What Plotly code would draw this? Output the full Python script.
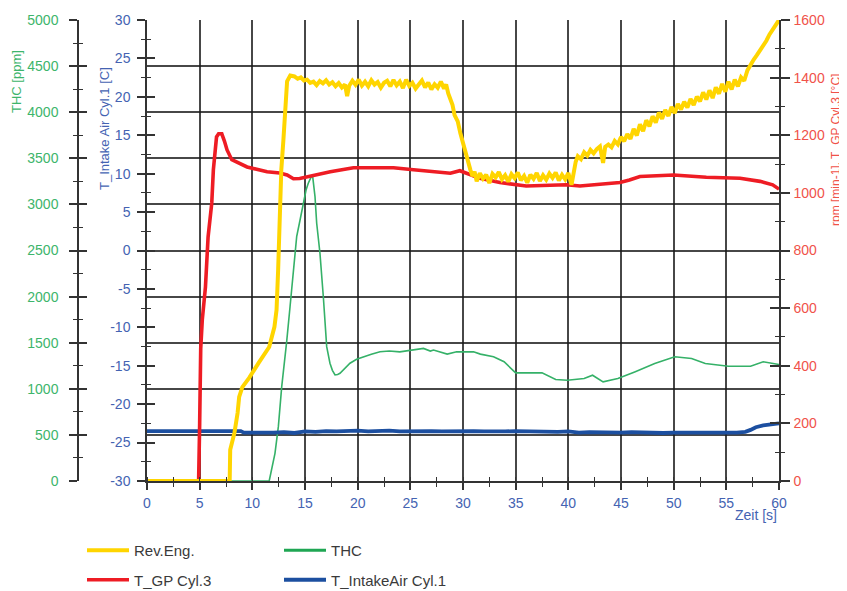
import plotly.graph_objects as go

# ---------------- data ----------------
rev_t = [0, 7.85, 7.9, 8.1, 8.3, 8.6, 8.75, 9.05, 9.7, 10.6, 11.6, 12.1, 12.3, 12.45, 12.6, 12.75, 12.95, 13.1, 13.2, 13.3, 13.6, 14.0,
         14.3, 14.6, 14.9, 15.2, 15.5, 15.8, 16.1, 16.4, 16.7, 17.0, 17.3, 17.6, 17.9, 18.2, 18.5, 18.8, 19.0, 19.2, 19.5, 19.8,
         20.1, 20.4, 20.7, 21.0, 21.3, 21.6, 21.9, 22.2, 22.5, 22.8, 23.1, 23.4, 23.7, 24.0, 24.3, 24.6, 24.9, 25.2, 25.5, 25.8,
         26.1, 26.4, 26.7, 27.0, 27.3, 27.6, 27.9, 28.2, 28.4,
         28.6, 28.8, 29.0, 29.2, 29.5, 29.75, 29.95, 30.1, 30.3, 30.5, 30.7,
         30.9, 31.1, 31.3, 31.6, 31.9, 32.2, 32.5, 32.8, 33.1, 33.4, 33.7, 34.0, 34.3, 34.6, 34.9, 35.2, 35.5, 35.8, 36.1, 36.4,
         36.7, 37.0, 37.3, 37.6, 37.9, 38.2, 38.5, 38.8, 39.1, 39.4, 39.7, 40.0, 40.3,
         40.5, 40.7, 40.9, 41.2, 41.5, 41.8, 42.1, 42.4, 42.7, 43.0, 43.3, 43.5, 43.8, 44.1, 44.4, 44.7, 45.0, 45.3, 45.6, 45.9,
         46.2, 46.5, 46.8, 47.1, 47.4, 47.7, 48.0, 48.3, 48.6, 48.9, 49.2, 49.5, 49.8, 50.1, 50.4, 50.7, 51.0, 51.3, 51.6, 51.9,
         52.2, 52.5, 52.8, 53.1, 53.4, 53.7, 54.0, 54.3, 54.6, 54.9, 55.2, 55.5, 55.8, 56.1, 56.4, 56.7, 57.0, 57.3, 57.6, 57.9,
         58.2, 58.5, 58.8, 59.1, 59.4, 59.7, 60.0]
rev_v = [0, 0, 108, 140, 167, 236, 292, 326, 358, 410, 465, 535, 594, 733, 906, 1080, 1184, 1253, 1306, 1387, 1407, 1404,
         1396, 1401, 1390, 1393, 1382, 1386, 1374, 1388, 1380, 1391, 1376, 1384, 1370, 1381, 1366, 1376, 1336, 1372, 1389, 1375,
         1393, 1372, 1386, 1370, 1391, 1376, 1385, 1365, 1382, 1389, 1370, 1392, 1373, 1386, 1364, 1393, 1371, 1382, 1362, 1379,
         1390, 1366, 1383, 1359, 1377, 1365, 1386, 1362, 1376,
         1345, 1322, 1306, 1270, 1248, 1207, 1180, 1158, 1126, 1098, 1080,
         1058, 1074, 1040, 1068, 1049, 1063, 1034, 1066, 1054, 1072, 1047, 1061, 1039, 1065, 1051, 1071, 1044, 1059, 1035, 1063,
         1049, 1069, 1041, 1061, 1046, 1067, 1052, 1071, 1043, 1063, 1047, 1069, 1028,
         1072, 1108, 1127, 1117, 1141, 1129, 1149, 1137, 1152, 1161, 1104, 1160, 1168, 1158, 1180, 1168, 1194, 1179, 1204, 1187,
         1222, 1199, 1238, 1214, 1252, 1231, 1266, 1244, 1279, 1257, 1288, 1267, 1298, 1277, 1309, 1289, 1316, 1296, 1326, 1305,
         1334, 1318, 1349, 1324, 1356, 1329, 1366, 1344, 1378, 1351, 1386, 1359, 1393, 1370, 1401, 1389, 1425, 1448, 1463, 1478,
         1494, 1512, 1528, 1550, 1567, 1586, 1600]

gp_t = [0, 4.9, 5.0, 5.1, 5.25, 5.55, 5.8, 6.15, 6.3, 6.6, 6.8, 7.1, 7.35, 7.6, 8.05, 9.5, 11.4, 12.6, 13.3, 13.9, 14.5, 15.2,
        16.1, 17.4, 18.5, 19.6, 20.9, 23.4, 25.3, 27.0, 27.8, 28.8, 29.7, 30.7, 31.6, 33.5, 36.0, 39.8, 41.1, 43.0, 44.9, 45.8,
        46.8, 50.0, 53.1, 56.3, 58.2, 59.4, 60.0]
gp_v = [0, 0, 200, 460, 560, 674, 847, 965, 1080, 1194, 1205, 1205, 1180, 1149, 1115, 1090, 1073, 1069, 1062, 1049, 1050, 1056,
        1062, 1073, 1080, 1087, 1087, 1087, 1080, 1074, 1072, 1068, 1077, 1062, 1051, 1036, 1024, 1028, 1024, 1030, 1036, 1045,
        1057, 1062, 1054, 1051, 1040, 1028, 1013]

thc_t = [0, 11.6, 12.15, 12.47, 12.79, 13.1, 13.26, 13.58, 13.89, 14.21, 14.53, 14.84, 15.1, 15.31, 15.48, 15.6, 15.73, 15.95,
         16.11, 16.42, 16.74, 17.06, 17.37, 17.6, 17.85, 18.1, 18.32, 18.8, 19.27, 19.9, 20.54, 21.3, 22.12, 23.0, 24.0, 25.3,
         26.25, 26.9, 27.2, 28.5, 29.4, 31.0, 31.65, 32.9, 33.9, 35.0, 37.5, 38.8, 39.9, 41.5, 42.3, 43.3, 44.7, 46.3, 48.2,
         50.1, 51.7, 53.0, 55.2, 57.3, 58.5, 60.0]
thc_v = [0, 0, 300, 589, 1023, 1312, 1511, 1890, 2288, 2650, 2831, 3012, 3156, 3229, 3283, 3301, 3301, 3084,
         2795, 2470, 1999, 1457, 1277, 1200, 1150, 1155, 1168, 1220, 1277, 1320, 1348, 1375, 1402, 1410, 1401, 1420,
         1438, 1409, 1420, 1376, 1401, 1401, 1376, 1347, 1293, 1173, 1173, 1100, 1092, 1111, 1147, 1075, 1111, 1183, 1274,
         1347, 1329, 1274, 1245, 1245, 1293, 1264]

air_t = [0, 1, 2, 3, 4, 5, 6, 7, 8, 8.9, 9.2, 10, 11, 12, 13, 14, 14.5, 15, 16, 17, 18, 19, 20, 21, 22, 23, 24, 25, 26, 27,
         28, 29, 30, 31, 32, 33, 34, 35, 36, 37, 38, 39, 40, 41, 42, 43, 44, 45, 46, 47, 48, 49, 50, 51, 52, 53, 54, 55, 56,
         56.8, 57.3, 57.8, 58.5, 59.2, 60]
air_v = [-23.5, -23.55, -23.5, -23.5, -23.55, -23.5, -23.5, -23.5, -23.55, -23.5, -23.7, -23.65, -23.7, -23.7, -23.65, -23.75,
         -23.6, -23.55, -23.6, -23.5, -23.55, -23.5, -23.45, -23.55, -23.5, -23.45, -23.55, -23.5, -23.45, -23.5, -23.55, -23.5,
         -23.45, -23.5, -23.55, -23.6, -23.55, -23.5, -23.55, -23.6, -23.55, -23.6, -23.55, -23.7, -23.65, -23.7, -23.75, -23.7,
         -23.65, -23.7, -23.7, -23.75, -23.7, -23.65, -23.7, -23.7, -23.65, -23.7, -23.7,
         -23.6, -23.35, -23.0, -22.75, -22.65, -22.5]

x_ticks = [0, 5, 10, 15, 20, 25, 30, 35, 40, 45, 50, 55, 60]
air_ticks = [-30, -25, -20, -15, -10, -5, 0, 5, 10, 15, 20, 25, 30]
air_tick_labels = ["-30", "-25", "-20", "-15", "-10", "-5", "0", "5", "10", "15", "20", "25", "30"]

# ---------------- style ----------------
FONT = "Liberation Sans, Arial, Helvetica, sans-serif"
C_YEL = "#FFD500"
C_RED = "#EE1C24"
C_GRN = "#35B168"
C_BLU = "#1C4FA0"
T_GRN = "#3DB56B"
T_BLU = "#4463B2"
T_RED = "#F0524A"
AX = "#333333"
GRID = "rgba(25,25,25,0.8)"

# page body has an 8px default margin -> figure is 8px smaller
W, H = 839, 583
ML, MR, MT, MB = 70, 68, 12, 110
PW = W - ML - MR          # 701
PH = H - MT - MB          # 461
REF_L = 78                # window pixel of paper x = 0
REF_B = 481               # window pixel of paper y = 0
dom0 = (147 - REF_L) / PW


def px(xp):
    return (xp - REF_L) / PW


def py(yp):
    return (REF_B - yp) / PH


fig = go.Figure()

fig.add_trace(go.Scatter(x=thc_t, y=thc_v, name="THC", mode="lines", yaxis="y",
                         line=dict(color=C_GRN, width=1.6), showlegend=False,
                         legendgroup="thc"))
fig.add_trace(go.Scatter(x=air_t, y=air_v, name="T_IntakeAir Cyl.1", mode="lines", yaxis="y2",
                         line=dict(color=C_BLU, width=3.8), legend="legend2", legendrank=2,
                         legendgroup="air"))
fig.add_trace(go.Scatter(x=gp_t, y=gp_v, name="T_GP Cyl.3", mode="lines", yaxis="y3",
                         line=dict(color=C_RED, width=3.6), legend="legend", legendrank=2,
                         legendgroup="gp"))
fig.add_trace(go.Scatter(x=rev_t, y=rev_v, name="Rev.Eng.", mode="lines", yaxis="y3",
                         line=dict(color=C_YEL, width=4), legend="legend", legendrank=1,
                         legendgroup="rev"))
# legend key for THC (thicker line as in the reference legend)
fig.add_trace(go.Scatter(x=[None], y=[None], name="THC", mode="lines", yaxis="y",
                         line=dict(color="#1FA653", width=3), legend="legend2", legendrank=1,
                         legendgroup="thc", hoverinfo="skip"))
# empty helper traces for the twin axes drawing the inner half of the crossing ticks
for ya in ["y4", "y5", "y6"]:
    fig.add_trace(go.Scatter(x=[None], y=[None], yaxis=ya, showlegend=False, hoverinfo="skip"))
fig.add_trace(go.Scatter(x=[None], y=[None], xaxis="x2", yaxis="y", showlegend=False, hoverinfo="skip"))

tick_common = dict(tickwidth=1.5, tickcolor=AX, zeroline=False, automargin=False)
legend_common = dict(xanchor="left", yanchor="top", orientation="v", traceorder="grouped",
                     tracegroupgap=7, itemwidth=42, bgcolor="rgba(0,0,0,0)", borderwidth=0,
                     font=dict(size=15, color="#3a3a3a", family=FONT))

fig.update_layout(
    width=W, height=H,
    margin=dict(l=ML, r=MR, t=MT, b=MB, pad=0, autoexpand=False),
    paper_bgcolor="white", plot_bgcolor="white",
    font=dict(family=FONT, size=14, color="#333333"),
    template="none",
    xaxis=dict(domain=[dom0, 1], range=[0, 60], tickvals=x_ticks, ticktext=[str(v) for v in x_ticks],
               showgrid=True, gridcolor=GRID, gridwidth=1.6,
               showline=True, linecolor=AX, linewidth=1.5,
               ticks="outside", ticklen=7, ticklabelstandoff=1,
               minor=dict(dtick=2.5, tick0=0, ticks="outside", ticklen=4, tickwidth=1.3, tickcolor=AX, showgrid=False),
               tickfont=dict(color=T_BLU, size=14, family=FONT), **tick_common),
    xaxis2=dict(overlaying="x", anchor="y", side="bottom", range=[0, 60], tickvals=x_ticks,
                showticklabels=False, showgrid=False, showline=False, ticks="",
                minor=dict(dtick=2.5, tick0=0, ticks="inside", ticklen=4, tickwidth=1.3, tickcolor=AX, showgrid=False),
                **tick_common),
    yaxis=dict(range=[0, 5000], dtick=500, tick0=0, anchor="free", position=0, side="left",
               showgrid=True, gridcolor=GRID, gridwidth=1.6,
               showline=True, linecolor=AX, linewidth=1.5,
               ticks="outside", ticklen=8, ticklabelstandoff=8,
               minor=dict(dtick=250, ticks="outside", ticklen=4, tickwidth=1.3, tickcolor=AX, showgrid=False),
               tickfont=dict(color=T_GRN, size=14, family=FONT), **tick_common),
    yaxis4=dict(range=[0, 5000], dtick=500, tick0=0, overlaying="y", anchor="free", position=0, side="left",
                showgrid=False, showline=False, showticklabels=False,
                ticks="inside", ticklen=8,
                minor=dict(dtick=250, ticks="inside", ticklen=4, tickwidth=1.3, tickcolor=AX, showgrid=False),
                **tick_common),
    yaxis2=dict(range=[-30, 30], tickvals=air_ticks, ticktext=air_tick_labels, overlaying="y", anchor="x", side="left",
                showgrid=False, showline=True, linecolor=AX, linewidth=1.5,
                ticks="outside", ticklen=8, ticklabelstandoff=4,
                minor=dict(dtick=2.5, tick0=0, ticks="outside", ticklen=4, tickwidth=1.3, tickcolor=AX, showgrid=False),
                tickfont=dict(color=T_BLU, size=14, family=FONT), **tick_common),
    yaxis5=dict(range=[-30, 30], tickvals=air_ticks, overlaying="y", anchor="x", side="left",
                showgrid=False, showline=False, showticklabels=False,
                ticks="inside", ticklen=8,
                minor=dict(dtick=2.5, tick0=0, ticks="inside", ticklen=4, tickwidth=1.3, tickcolor=AX, showgrid=False),
                **tick_common),
    yaxis3=dict(range=[0, 1600], dtick=200, tick0=0, overlaying="y", anchor="x", side="right",
                showgrid=False, showline=True, linecolor=AX, linewidth=1.5,
                ticks="outside", ticklen=9, ticklabelstandoff=1,
                minor=dict(dtick=100, ticks="outside", ticklen=4, tickwidth=1.3, tickcolor=AX, showgrid=False),
                tickfont=dict(color=T_RED, size=14, family=FONT), **tick_common),
    yaxis6=dict(range=[0, 1600], dtick=200, tick0=0, overlaying="y", anchor="x", side="right",
                showgrid=False, showline=False, showticklabels=False,
                ticks="inside", ticklen=9,
                minor=dict(dtick=100, ticks="inside", ticklen=4, tickwidth=1.3, tickcolor=AX, showgrid=False),
                **tick_common),
    legend=dict(x=px(82), y=py(534), **legend_common),
    legend2=dict(x=px(279), y=py(534), **legend_common),
    showlegend=True,
    hovermode="closest",
)

annotations = [
    dict(text="THC [ppm]", x=px(16), y=py(82), textangle=-90, font=dict(color=T_GRN, size=13, family=FONT)),
    dict(text="T_Intake Air Cyl.1 [C]", x=px(104), y=py(129), textangle=-90,
         font=dict(color=T_BLU, size=13, family=FONT)),
    dict(text="rpm [min-1], T_GP Cyl.3 [°C]", x=px(836), y=py(150), textangle=-90,
         font=dict(color=T_RED, size=12, family=FONT)),
    dict(text="Zeit [s]", x=px(779), y=py(515), xanchor="right", font=dict(color=T_BLU, size=14, family=FONT)),
]
for a in annotations:
    a.update(xref="paper", yref="paper", showarrow=False)
    a.setdefault("xanchor", "center")
    a.setdefault("yanchor", "middle")
fig.update_layout(annotations=annotations)

fig.write_html("out.html")
